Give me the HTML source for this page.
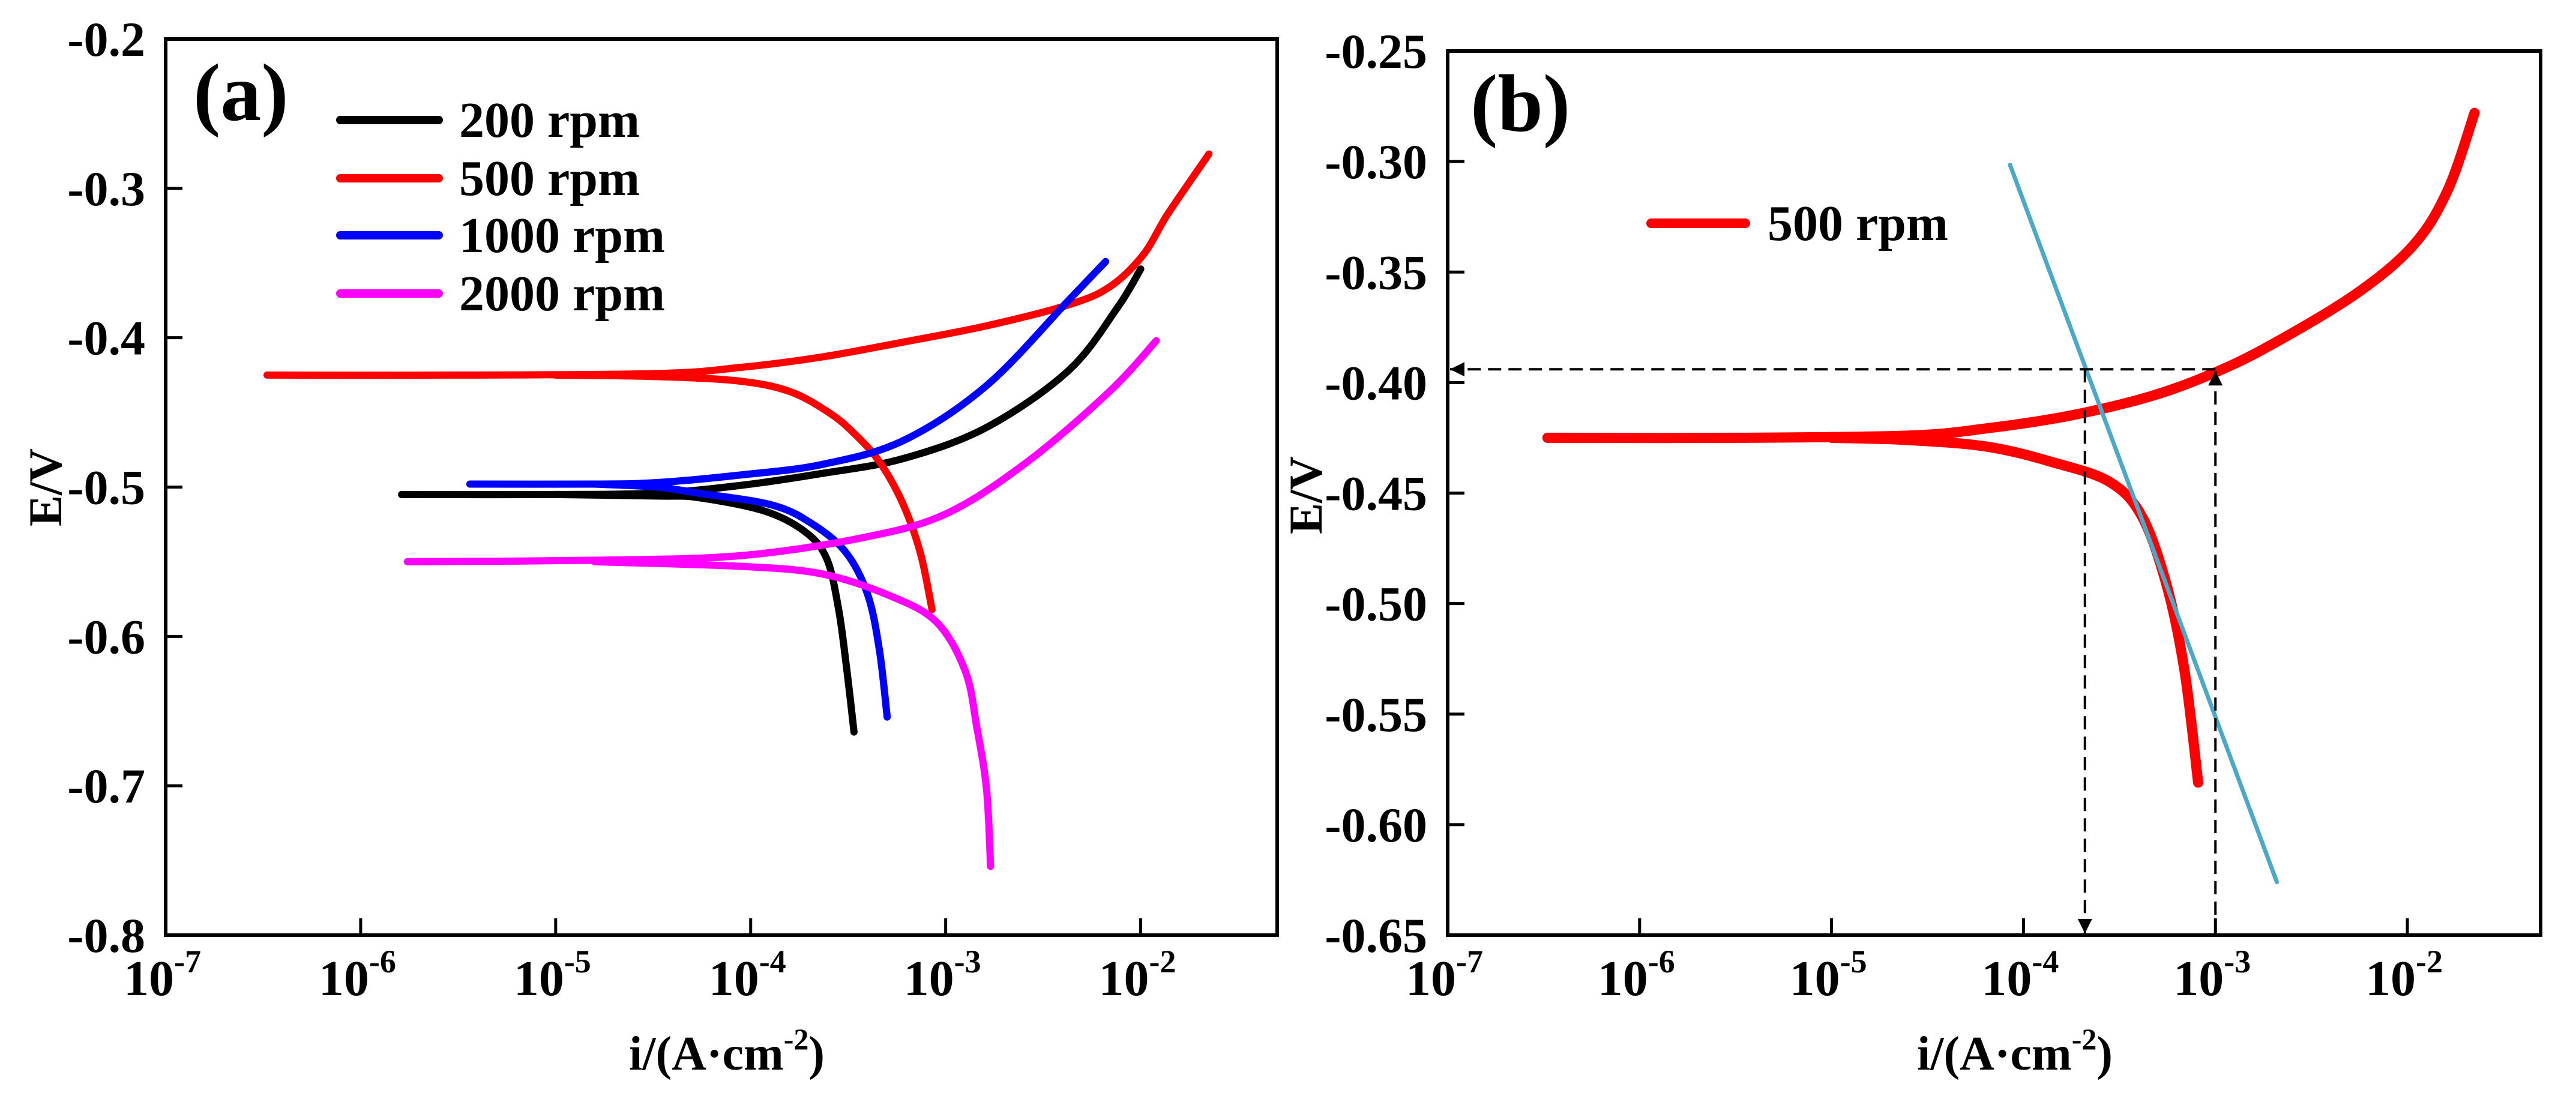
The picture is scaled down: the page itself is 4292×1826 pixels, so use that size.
<!DOCTYPE html>
<html><head><meta charset="utf-8"><style>
html,body{margin:0;padding:0;background:#fff;}
svg{display:block;}
text{font-family:"Liberation Serif",serif;font-weight:bold;fill:#000;}
</style></head><body>
<svg id="fig" width="4292" height="1826" viewBox="0 0 4292 1826" xmlns="http://www.w3.org/2000/svg">
<defs>
<marker id="arrB" viewBox="0 0 10 10" refX="10" refY="5" markerWidth="24" markerHeight="30" markerUnits="userSpaceOnUse" orient="auto"><path d="M0,0 L10,5 L0,10 z" fill="#000"/></marker>
</defs>
<g id="panelA"></g>
<g id="panelB"></g>
</svg>
<script>
// ---- Panel (a) data: log10(i) and E (V) ----
const xTickExps = [-7, -6, -5, -4, -3, -2];
const yTicksA = [-0.2, -0.3, -0.4, -0.5, -0.6, -0.7, -0.8];
const yTickLabelsA = ["-0.2", "-0.3", "-0.4", "-0.5", "-0.6", "-0.7", "-0.8"];
const seriesNamesA = ["200 rpm", "500 rpm", "1000 rpm", "2000 rpm"];
const seriesColorsA = ["#000000", "#ff0000", "#0000ff", "#ff00ff"];

const logI_200 = [-5.79, -5.0, -4.48, -4.06, -3.64, -3.22, -2.79, -2.37, -2.12, -2.0];
const E_200 = [-0.505, -0.505, -0.504, -0.499, -0.491, -0.481, -0.460, -0.422, -0.380, -0.354];
const logI_200c = [-5.0, -4.48, -4.27, -3.93, -3.72, -3.61, -3.55, -3.51, -3.47];
const E_200c = [-0.505, -0.506, -0.507, -0.516, -0.530, -0.548, -0.581, -0.619, -0.664];

const logI_500 = [-6.48, -5.5, -4.48, -4.06, -3.64, -3.22, -2.79, -2.37, -2.16, -1.99, -1.87, -1.74, -1.65];
const E_500 = [-0.425, -0.425, -0.424, -0.420, -0.413, -0.403, -0.392, -0.378, -0.366, -0.345, -0.319, -0.294, -0.277];
const logI_500c = [-5.0, -4.48, -4.06, -3.80, -3.60, -3.47, -3.34, -3.22, -3.13, -3.07];
const E_500c = [-0.425, -0.426, -0.429, -0.436, -0.450, -0.464, -0.483, -0.511, -0.544, -0.582];

const logI_1000 = [-5.44, -4.8, -4.48, -4.06, -3.64, -3.22, -2.79, -2.37, -2.18];
const E_1000 = [-0.498, -0.498, -0.497, -0.492, -0.485, -0.469, -0.432, -0.375, -0.349];
const logI_1000c = [-4.8, -4.48, -4.27, -3.89, -3.68, -3.51, -3.40, -3.34, -3.30];
const E_1000c = [-0.498, -0.500, -0.504, -0.512, -0.525, -0.544, -0.572, -0.609, -0.654];

const logI_2000 = [-5.76, -4.8, -4.06, -3.43, -3.0, -2.58, -2.16, -1.92];
const E_2000 = [-0.550, -0.549, -0.546, -0.534, -0.518, -0.483, -0.436, -0.402];
const logI_2000c = [-4.8, -4.06, -3.64, -3.30, -3.05, -2.90, -2.84, -2.79, -2.77];
const E_2000c = [-0.550, -0.553, -0.558, -0.572, -0.590, -0.623, -0.661, -0.703, -0.754];

// ---- Panel (b) data ----
const yTicksB = [-0.25, -0.30, -0.35, -0.40, -0.45, -0.50, -0.55, -0.60, -0.65];
const yTickLabelsB = ["-0.25", "-0.30", "-0.35", "-0.40", "-0.45", "-0.50", "-0.55", "-0.60", "-0.65"];
const logI_b = [-6.48, -5.5, -4.6, -4.19, -3.76, -3.33, -2.99, -2.69, -2.27, -1.97, -1.79, -1.65];
const E_b = [-0.425, -0.425, -0.424, -0.4207, -0.415, -0.406, -0.395, -0.382, -0.360, -0.338, -0.313, -0.278];
const logI_bc = [-5.0, -4.6, -4.19, -3.85, -3.55, -3.38, -3.25, -3.16, -3.09];
const E_bc = [-0.425, -0.426, -0.429, -0.436, -0.445, -0.461, -0.493, -0.531, -0.581];
const tafelLogI = [-4.07, -2.68];
const tafelE = [-0.3015, -0.626];
const ecorr = -0.394;
const icorrLog = -3.68;
const iAnodicLog = -3.0;

const NS = "http://www.w3.org/2000/svg";
function mk(parent, tag, attrs, txt) {
  const e = document.createElementNS(NS, tag);
  for (const k in attrs) e.setAttribute(k, attrs[k]);
  if (txt !== undefined) e.textContent = txt;
  parent.appendChild(e);
  return e;
}
function axes(x0, x1, y0, y1, xmin, xmax, ymin, ymax) {
  return {
    x: v => x0 + (v - xmin) / (xmax - xmin) * (x1 - x0),
    y: v => y1 - (v - ymin) / (ymax - ymin) * (y1 - y0),
    x0, x1, y0, y1
  };
}
// smooth Catmull-Rom path through data points
function pathD(ax, xs, ys) {
  const P = xs.map((v, i) => [ax.x(v), ax.y(ys[i])]);
  if (P.length < 3) return "M" + P.map(p => p[0].toFixed(1) + "," + p[1].toFixed(1)).join(" L");
  let d = "M" + P[0][0].toFixed(1) + "," + P[0][1].toFixed(1);
  for (let i = 0; i < P.length - 1; i++) {
    const p0 = P[Math.max(0, i - 1)], p1 = P[i], p2 = P[i + 1], p3 = P[Math.min(P.length - 1, i + 2)];
    const c1 = [p1[0] + (p2[0] - p0[0]) / 6, p1[1] + (p2[1] - p0[1]) / 6];
    const c2 = [p2[0] - (p3[0] - p1[0]) / 6, p2[1] - (p3[1] - p1[1]) / 6];
    d += " C" + c1[0].toFixed(1) + "," + c1[1].toFixed(1) + " " + c2[0].toFixed(1) + "," + c2[1].toFixed(1) + " " + p2[0].toFixed(1) + "," + p2[1].toFixed(1);
  }
  return d;
}
function frame(g, ax, yTicks, yLabels) {
  const box = mk(g, "rect", {x: ax.x0, y: ax.y0, width: ax.x1 - ax.x0, height: ax.y1 - ax.y0, fill: "none", stroke: "#000", "stroke-width": 6});
  
  
  yTicks.forEach((v, i) => {
    const yy = ax.y(v);
    const t = mk(g, "line", {x1: ax.x0, x2: ax.x0 + 28, y1: yy, y2: yy, stroke: "#000", "stroke-width": 5});
    
    
    const lb = mk(g, "text", {x: ax.x0 - 34, y: yy + 28, "text-anchor": "end", "font-size": 82}, yLabels[i]);
    
    
  });
  xTickExps.forEach(ex => {
    const xx = ax.x(ex);
    const t = mk(g, "line", {x1: xx, x2: xx, y1: ax.y1, y2: ax.y1 - 28, stroke: "#000", "stroke-width": 5});
    
    
    const lb = mk(g, "text", {x: xx - 70, y: 1658, "font-size": 84});
    
    
    mk(lb, "tspan", {}, "10");
    mk(lb, "tspan", {dy: -38, "font-size": 54}, String(ex));
  });
}
function xTitle(g, cx) {
  const t = mk(g, "text", {x: cx, y: 1782, "text-anchor": "middle", "font-size": 80});
  
  
  mk(t, "tspan", {}, "i/(A·cm");
  mk(t, "tspan", {dy: -34, "font-size": 50}, "-2");
  mk(t, "tspan", {dy: 34}, ")");
}
function yTitle(g, x, cy) {
  const t = mk(g, "text", {x: x, y: cy, "text-anchor": "middle", "font-size": 78, transform: "rotate(-90 " + x + " " + cy + ")"}, "E/V");
  
  
}
function curve(g, ax, xs, ys, color, w, name) {
  const p = mk(g, "path", {d: pathD(ax, xs, ys), fill: "none", stroke: color, "stroke-width": w, "stroke-linejoin": "round", "stroke-linecap": "round"});
  
  
}

// ---------- Panel A ----------
const gA = document.getElementById("panelA");
const axA = axes(276, 2128, 65, 1558, -7, -1.30, -0.8, -0.2);
frame(gA, axA, yTicksA, yTickLabelsA);
xTitle(gA, 1211);
yTitle(gA, 102, 812);
const la = mk(gA, "text", {x: 322, y: 200, "font-size": 136}, "(a)");


const dataA = [[logI_200, E_200, logI_200c, E_200c], [logI_500, E_500, logI_500c, E_500c],
               [logI_1000, E_1000, logI_1000c, E_1000c], [logI_2000, E_2000, logI_2000c, E_2000c]];
dataA.forEach((d, i) => {
  curve(gA, axA, d[0], d[1], seriesColorsA[i], 12, "curve-anodic-" + seriesNamesA[i].replace(" ", "-"));
  curve(gA, axA, d[2], d[3], seriesColorsA[i], 12, "curve-cathodic-" + seriesNamesA[i].replace(" ", "-"));
});
const legY = [200, 297, 392, 489];
seriesNamesA.forEach((n, i) => {
  const l = mk(gA, "line", {x1: 567, x2: 731, y1: legY[i], y2: legY[i], stroke: seriesColorsA[i], "stroke-width": 14, "stroke-linecap": "round"});
  
  
  const t = mk(gA, "text", {x: 765, y: legY[i] + 28, "font-size": 84}, n);
  
  
});

// ---------- Panel B ----------
const gB = document.getElementById("panelB");
const axB = axes(2412, 4233, 85, 1558, -7, -1.306, -0.65, -0.25);
frame(gB, axB, yTicksB, yTickLabelsB);
xTitle(gB, 3357);
yTitle(gB, 2202, 825);
const lb = mk(gB, "text", {x: 2450, y: 218, "font-size": 136}, "(b)");


curve(gB, axB, logI_b, E_b, "#ff0000", 17, "curve-anodic-500-rpm");
curve(gB, axB, logI_bc, E_bc, "#ff0000", 17, "curve-cathodic-500-rpm");
curve(gB, axB, tafelLogI, tafelE, "#4aa8c8", 7, "tafel-line");
const dash = {stroke: "#000", "stroke-width": 4, "stroke-dasharray": "22 12", fill: "none"};
const h = mk(gB, "line", Object.assign({x1: axB.x(iAnodicLog), x2: axB.x0 + 4, y1: axB.y(ecorr), y2: axB.y(ecorr), "marker-end": "url(#arrB)"}, dash));


const v1 = mk(gB, "line", Object.assign({x1: axB.x(icorrLog), x2: axB.x(icorrLog), y1: axB.y(ecorr), y2: axB.y1 - 3, "marker-end": "url(#arrB)"}, dash));


const v2 = mk(gB, "line", Object.assign({x1: axB.x(iAnodicLog), x2: axB.x(iAnodicLog), y1: axB.y1, y2: axB.y(ecorr) + 3, "marker-end": "url(#arrB)"}, dash));


const ll = mk(gB, "line", {x1: 2751, x2: 2908, y1: 372, y2: 372, stroke: "#ff0000", "stroke-width": 16, "stroke-linecap": "round"});


const lt = mk(gB, "text", {x: 2945, y: 400, "font-size": 84}, "500 rpm");


</script>
</body></html>
